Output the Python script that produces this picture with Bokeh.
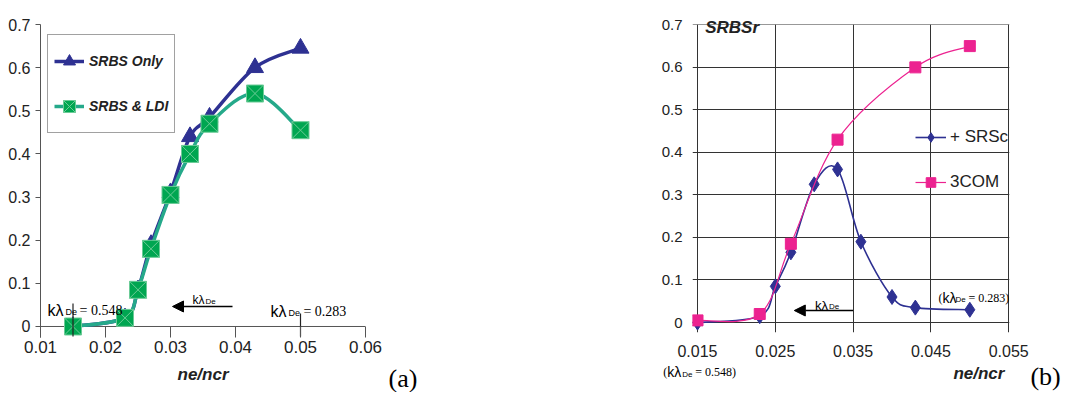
from bokeh.plotting import figure
from bokeh.models import (FixedTicker, Span, Label, Arrow, NormalHead, Legend,
                          LegendItem, Range1d)
from bokeh.layouts import row
from bokeh.embed import file_html
from bokeh.resources import INLINE

# ---------------- data ----------------
a_x = [0.015, 0.023, 0.025, 0.027, 0.030, 0.033, 0.036, 0.043, 0.050]
a_srbs_only = [0.0, 0.02, 0.085, 0.19, 0.31, 0.44, 0.485, 0.60, 0.645]
a_srbs_ldi = [0.0, 0.02, 0.085, 0.18, 0.305, 0.40, 0.47, 0.54, 0.455]

b_srsc_x = [0.015, 0.023, 0.025, 0.027, 0.030, 0.033, 0.036, 0.040, 0.043, 0.050]
b_srsc_y = [0.0, 0.015, 0.085, 0.165, 0.325, 0.36, 0.19, 0.06, 0.035, 0.03]
b_3com_x = [0.015, 0.023, 0.027, 0.033, 0.043, 0.050]
b_3com_y = [0.005, 0.02, 0.185, 0.43, 0.60, 0.65]

a_x_ticks = [0.01, 0.02, 0.03, 0.04, 0.05, 0.06]
a_x_labels = ["0.01", "0.02", "0.03", "0.04", "0.05", "0.06"]
y_ticks = [0.0, 0.1, 0.2, 0.3, 0.4, 0.5, 0.6, 0.7]
y_labels = ["0", "0.1", "0.2", "0.3", "0.4", "0.5", "0.6", "0.7"]
b_x_ticks = [0.015, 0.025, 0.035, 0.045, 0.055]
b_x_labels = ["0.015", "0.025", "0.035", "0.045", "0.055"]

kl_x = [0.015, 0.05]
kl_vals = ["0.548", "0.283"]

# ---------------- styles ----------------
SANS = "Liberation Sans"
SERIF = "Liberation Serif"
NAVY = "#2E3192"
TEAL = "#25A98A"
GREEN = "#00A651"
XLINE = "#6CCB97"
MAGENTA = "#EC2290"
AXIS = "#555555"
GRID = "#333333"
TXT = "#222222"


def smooth(xs, ys):
    """Catmull-Rom curve through the points, as cubic Bezier segments."""
    n = len(xs)
    out = dict(x0=[], y0=[], x1=[], y1=[], cx0=[], cy0=[], cx1=[], cy1=[])
    for i in range(n - 1):
        i0 = max(i - 1, 0)
        i3 = min(i + 2, n - 1)
        out["x0"].append(xs[i]); out["y0"].append(ys[i])
        out["x1"].append(xs[i + 1]); out["y1"].append(ys[i + 1])
        out["cx0"].append(xs[i] + (xs[i + 1] - xs[i0]) / 6)
        out["cy0"].append(ys[i] + (ys[i + 1] - ys[i0]) / 6)
        out["cx1"].append(xs[i + 1] - (xs[i3] - xs[i]) / 6)
        out["cy1"].append(ys[i + 1] - (ys[i3] - ys[i]) / 6)
    return out


def put(p, label, place=None):
    if place is None:
        p.add_layout(label)
    else:
        p.add_layout(label, place)


def add_text(p, x, y, parts, place=None):
    for text, dx, font, size, dy in parts:
        put(p, Label(x=x, y=y, text=text, x_offset=dx, y_offset=dy,
                     text_font=font, text_font_size=size,
                     text_baseline="alphabetic", text_color="black"), place)


def kl_parts(big, small, serif, eq, dxs, paren=False):
    parts = []
    off = 0
    if paren:
        parts.append(("(", 0, SERIF, f"{serif}px", 0))
        off = dxs[0]
        dxs = dxs[1:]
    parts.append(("k\u03bb", off, SANS, f"{big}px", 0))
    parts.append(("De", off + dxs[0], SANS, f"{small}px", -2))
    parts.append((eq, off + dxs[1], SERIF, f"{serif}px", 0))
    return parts


# ================= panel (a) =================
p1 = figure(frame_width=325, frame_height=313,
            x_range=Range1d(0.01, 0.06), y_range=Range1d(-0.0255, 0.7),
            output_backend="svg", toolbar_location=None,
            min_border_left=40, min_border_right=75,
            min_border_top=21, min_border_bottom=58)
p1.outline_line_color = None
p1.grid.visible = False
p1.background_fill_color = "white"

p1.xaxis.ticker = FixedTicker(ticks=a_x_ticks)
p1.xaxis.major_label_overrides = dict(zip(a_x_ticks, a_x_labels))
p1.xaxis.axis_line_color = None
p1.xaxis.major_tick_in = 11
p1.xaxis.major_tick_out = 0
p1.xaxis.major_tick_line_color = AXIS
p1.xaxis.minor_tick_line_color = None
p1.xaxis.major_label_standoff = 3
p1.xaxis.major_label_text_font = SANS
p1.xaxis.major_label_text_font_size = "17px"
p1.xaxis.major_label_text_color = TXT

p1.yaxis.ticker = FixedTicker(ticks=y_ticks)
p1.yaxis.major_label_overrides = dict(zip(y_ticks, y_labels))
p1.yaxis.axis_line_color = AXIS
p1.yaxis.major_tick_out = 5
p1.yaxis.major_tick_in = 0
p1.yaxis.major_tick_line_color = AXIS
p1.yaxis.minor_tick_line_color = None
p1.yaxis.major_label_standoff = 5
p1.yaxis.major_label_text_font = SANS
p1.yaxis.major_label_text_font_size = "16px"
p1.yaxis.major_label_text_color = TXT

p1.add_layout(Span(location=0, dimension="width", line_color=AXIS,
                   line_width=1, level="underlay"))

p1.bezier(**smooth(a_x, a_srbs_only), line_color=NAVY, line_width=3.5)
tri = p1.scatter(a_x, a_srbs_only, marker="triangle", size=17,
                 fill_color=NAVY, line_color=NAVY)
p1.bezier(**smooth(a_x, a_srbs_ldi), line_color=TEAL, line_width=3.5)
sq = p1.scatter(a_x, a_srbs_ldi, marker="square_x", size=17,
                fill_color=GREEN, line_color=XLINE, line_width=1)

# kλ markers
p1.segment(x0=kl_x, x1=kl_x, y0=[0.0533, 0.0301], y1=[-0.0232, -0.0232],
           line_color=TXT, line_width=1.2)

# one-point lines: invisible on the plot, give the legend its line samples
leg_blue = p1.line(a_x[:1], a_srbs_only[:1], line_color=NAVY, line_width=3.5)
leg_green = p1.line(a_x[:1], a_srbs_ldi[:1], line_color=TEAL, line_width=3.5)
legend1 = Legend(items=[LegendItem(label="SRBS Only", renderers=[leg_blue, tri]),
                        LegendItem(label="SRBS & LDI", renderers=[leg_green, sq])],
                 location=(7, 204), padding=6, spacing=5,
                 glyph_width=30, glyph_height=40, label_height=40,
                 label_standoff=5, border_line_color="#444444",
                 border_line_width=1, background_fill_color="white",
                 background_fill_alpha=1.0,
                 label_text_font=SANS, label_text_font_style="bold italic",
                 label_text_font_size="14px", label_text_color=TXT)
p1.add_layout(legend1)

add_text(p1, 0.01108, 0.0371, kl_parts(16, 9, 14, "= " + kl_vals[0], [18, 32]))
add_text(p1, 0.04538, 0.0348, kl_parts(16, 9, 14, "= " + kl_vals[1], [18, 33]))
p1.add_layout(Label(x=0.03338, y=0.0603, text="k\u03bb", text_font=SANS,
                    text_font_size="12px", text_baseline="alphabetic",
                    text_color="black"))
p1.add_layout(Label(x=0.03338, y=0.0603, text="De", x_offset=13, y_offset=-1,
                    text_font=SANS, text_font_size="8px", text_baseline="alphabetic",
                    text_color="black"))
p1.add_layout(Arrow(x_start=0.03954, y_start=0.0464, x_end=0.03031, y_end=0.0464,
                    line_color="black", line_width=1.5,
                    end=NormalHead(size=11, fill_color="black", line_color="black")))

put(p1, Label(x=0.035, y=-0.111, text="ne/ncr", text_align="center",
              text_baseline="middle", text_font=SANS,
              text_font_style="bold italic", text_font_size="17px",
              text_color=TXT), "right")
put(p1, Label(x=0.06354, y=-0.1206, text="(a)", text_baseline="middle",
              text_font=SERIF, text_font_size="26px", text_color="black"), "below")

# ================= panel (b) =================
p2 = figure(frame_width=317, frame_height=308,
            x_range=Range1d(0.014357, 0.0551), y_range=Range1d(-0.0235, 0.7008),
            output_backend="svg", toolbar_location=None,
            min_border_left=252, min_border_right=60,
            min_border_top=24, min_border_bottom=60)
p2.outline_line_color = None
p2.background_fill_color = "white"

p2.xaxis.ticker = FixedTicker(ticks=b_x_ticks)
p2.xgrid.ticker = FixedTicker(ticks=b_x_ticks)
p2.xaxis.major_label_overrides = dict(zip(b_x_ticks, b_x_labels))
p2.xaxis.axis_line_color = None
p2.xaxis.major_tick_line_color = None
p2.xaxis.minor_tick_line_color = None
p2.xaxis.major_label_standoff = 6
p2.xaxis.major_label_text_font = SANS
p2.xaxis.major_label_text_font_size = "16px"
p2.xaxis.major_label_text_color = TXT

p2.yaxis.ticker = FixedTicker(ticks=y_ticks)
p2.ygrid.ticker = FixedTicker(ticks=y_ticks)
p2.yaxis.major_label_overrides = dict(zip(y_ticks, y_labels))
p2.yaxis.axis_line_color = None
p2.yaxis.major_tick_line_color = None
p2.yaxis.minor_tick_line_color = None
p2.yaxis.major_label_standoff = 4
p2.yaxis.major_label_text_font = SANS
p2.yaxis.major_label_text_font_size = "15px"
p2.yaxis.major_label_text_color = TXT

p2.grid.grid_line_color = GRID
p2.grid.grid_line_width = 1
p2.grid.grid_line_alpha = 1.0

p2.bezier(**smooth(b_srsc_x, b_srsc_y), line_color=NAVY, line_width=1.6)
dia = p2.scatter(b_srsc_x, b_srsc_y, marker="diamond", size=15,
                 fill_color=NAVY, line_color=NAVY)
p2.bezier(**smooth(b_3com_x, b_3com_y), line_color=MAGENTA, line_width=1.2)
msq = p2.scatter(b_3com_x, b_3com_y, marker="square", size=11,
                 fill_color=MAGENTA, line_color=MAGENTA)

leg_navy = p2.line(b_srsc_x[:1], b_srsc_y[:1], line_color=NAVY, line_width=1.6)
leg_mag = p2.line(b_3com_x[:1], b_3com_y[:1], line_color=MAGENTA, line_width=1.2)
legend2 = Legend(items=[LegendItem(label="+ SRSc", renderers=[leg_navy, dia]),
                        LegendItem(label="3COM", renderers=[leg_mag, msq])],
                 location=(223, 138), padding=0, spacing=21,
                 glyph_width=31, glyph_height=24, label_height=24,
                 label_standoff=4, border_line_color=None,
                 background_fill_alpha=0.0,
                 label_text_font=SANS, label_text_font_size="17px",
                 label_text_color=TXT)
p2.add_layout(legend2)

put(p2, Label(x=0.01599, y=0.693, text="SRBSr", text_baseline="alphabetic",
              text_font=SANS, text_font_style="bold italic",
              text_font_size="17px", text_color=TXT), "left")

add_text(p2, 0.01059, -0.1175,
         kl_parts(14, 8, 12, "= " + kl_vals[0] + ")", [4, 15, 28], paren=True), "left")
add_text(p2, 0.04596, 0.0587,
         kl_parts(14, 8, 12, "= " + kl_vals[1] + ")", [4, 13, 26], paren=True))
p2.add_layout(Label(x=0.03011, y=0.0399, text="k\u03bb", text_font=SANS,
                    text_font_size="13px", text_baseline="alphabetic",
                    text_color="black"))
p2.add_layout(Label(x=0.03011, y=0.0399, text="De", x_offset=14, y_offset=-1,
                    text_font=SANS, text_font_size="8px", text_baseline="alphabetic",
                    text_color="black"))
p2.add_layout(Arrow(x_start=0.035, y_start=0.0282, x_end=0.02744, y_end=0.0282,
                    line_color="black", line_width=1.5,
                    end=NormalHead(size=11, fill_color="black", line_color="black")))

put(p2, Label(x=0.04789, y=-0.1198, text="ne/ncr", text_baseline="middle",
              text_font=SANS, text_font_style="bold italic",
              text_font_size="17px", text_color=TXT), "left")
put(p2, Label(x=0.05779, y=-0.1268, text="(b)", text_baseline="middle",
              text_font=SERIF, text_font_size="26px", text_color="black"), "left")

layout = row(p1, p2)
open("out.html", "w").write(file_html(layout, INLINE))
